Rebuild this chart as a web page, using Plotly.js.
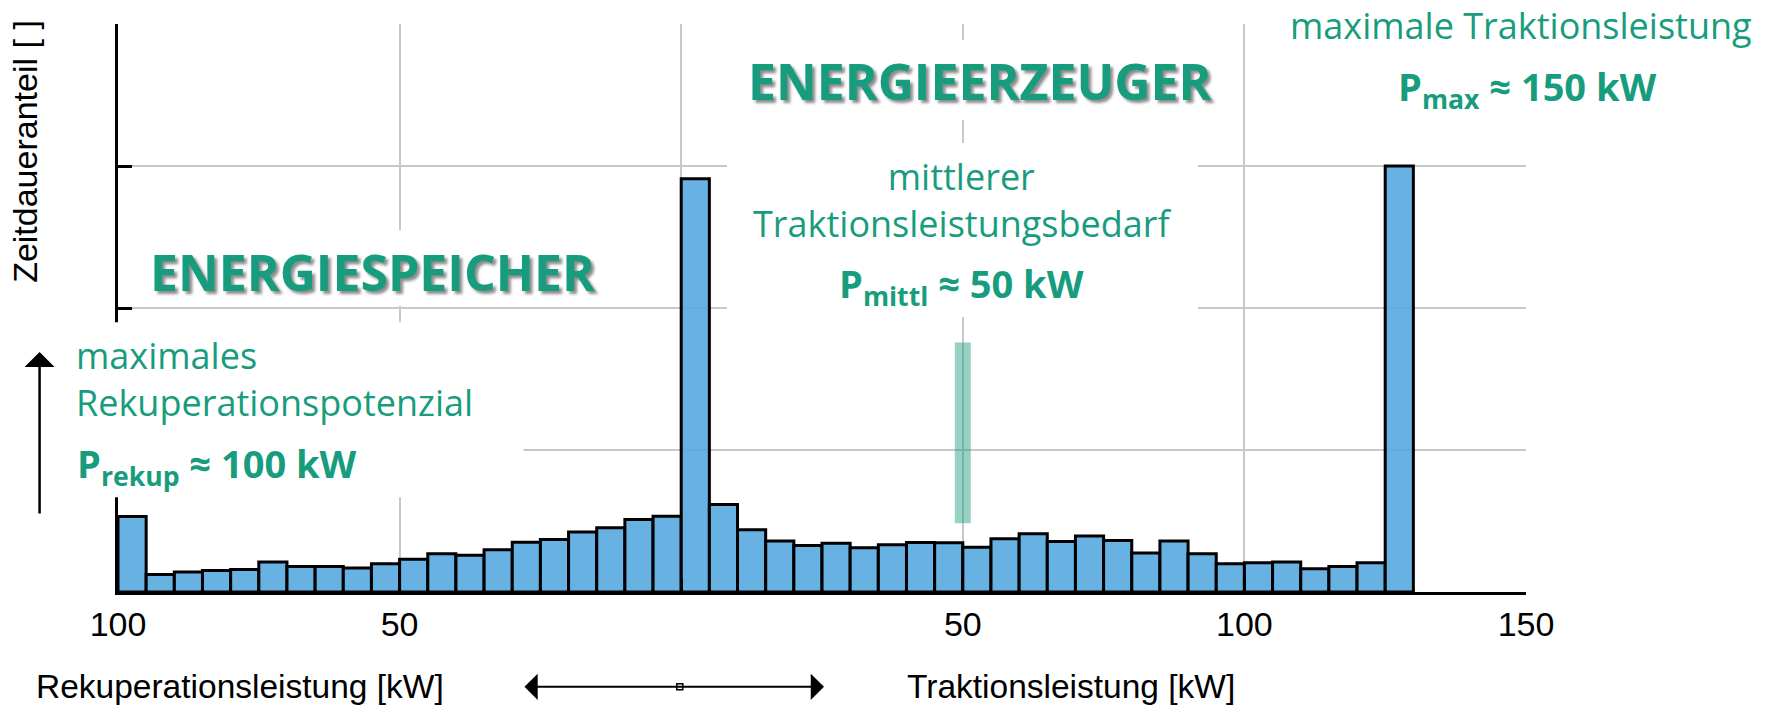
<!DOCTYPE html>
<html>
<head>
<meta charset="utf-8">
<script src="https://cdn.plot.ly/plotly-3.0.1.min.js"></script>
<style>html,body{margin:0;padding:0;background:#fff;}#chart{width:1774px;height:705px;}</style>
</head>
<body>
<div id="chart"></div>
<script>
// Bin start (kW): negative = recuperation, positive = traction; bin width 5 kW
const binStart = [
  -100, -95, -90, -85, -80, -75, -70, -65, -60, -55,
  -50, -45, -40, -35, -30, -25, -20, -15, -10, -5,
  0,
  5, 10, 15, 20, 25, 30, 35, 40, 45,
  50, 55, 60, 65, 70, 75, 80, 85, 90,
  95, 100, 105, 110, 115, 120,
  125
];
// Share of time (relative units, grid step = 1)
const timeShare = [
  0.532, 0.124, 0.141, 0.152, 0.159, 0.211, 0.180, 0.180, 0.169, 0.199,
  0.230, 0.269, 0.258, 0.298, 0.351, 0.370, 0.422, 0.452, 0.511, 0.534,
  2.91,
  0.616, 0.438, 0.359, 0.328, 0.344, 0.312, 0.333, 0.349, 0.347,
  0.316, 0.375, 0.410, 0.356, 0.394, 0.363, 0.274, 0.359, 0.269,
  0.199, 0.206, 0.211, 0.164, 0.180, 0.206,
  3.00
];
const binWidth = 5;
const tickValues = [-100, -50, 0, 50, 100, 150];
const tickLabels = ["100", "50", "", "50", "100", "150"];
const meanPower = [50, 50];
const meanBand = [0.485, 1.757];

const green = "#179C7D";
const arial = "Liberation Sans, Arial, sans-serif";
const sans = "Open Sans, Noto Sans, sans-serif";
const shadow = "3px 3px 3px rgba(0,0,0,0.45)";

const traces = [
  {
    type: "bar",
    x: binStart,
    y: timeShare,
    width: binWidth,
    offset: 0,
    marker: {color: "rgba(86,168,224,0.9)", line: {color: "#000", width: 3}},
    hoverinfo: "x+y"
  },
  {
    type: "scatter",
    mode: "lines",
    x: meanPower,
    y: meanBand,
    line: {color: "rgba(23,156,125,0.45)", width: 16},
    hoverinfo: "skip"
  }
];

function whiteBox(x0, x1, y0, y1) {
  return {type: "rect", xref: "paper", yref: "paper", x0: x0, x1: x1, y0: y0, y1: y1,
          fillcolor: "#fff", line: {width: 0}, layer: "above"};
}

const layout = {
  width: 1774,
  height: 705,
  margin: {l: 118, r: 248, t: 24, b: 113},
  paper_bgcolor: "#fff",
  plot_bgcolor: "#fff",
  showlegend: false,
  bargap: 0,
  xaxis: {
    range: [-100, 150],
    tickmode: "array",
    tickvals: tickValues,
    ticktext: tickLabels,
    ticks: "inside",
    ticklen: 13,
    tickwidth: 3,
    tickcolor: "#000",
    showline: true,
    linecolor: "#000",
    linewidth: 3,
    showgrid: true,
    gridcolor: "#c8c8c8",
    gridwidth: 2,
    zeroline: false,
    tickfont: {family: arial, size: 34, color: "#000"}
  },
  yaxis: {
    range: [0, 4],
    tickmode: "array",
    tickvals: [0, 1, 2, 3, 4],
    ticks: "inside",
    ticklen: 14,
    tickwidth: 3,
    tickcolor: "#000",
    showticklabels: false,
    showline: true,
    linecolor: "#000",
    linewidth: 3,
    showgrid: true,
    gridcolor: "#c8c8c8",
    gridwidth: 2,
    zeroline: false
  },
  shapes: [
    whiteBox(-0.040, 0.288, 0.167, 0.475),
    whiteBox(0.016, 0.355, 0.504, 0.637),
    whiteBox(0.438, 0.791, 0.831, 0.972),
    whiteBox(0.4325, 0.767, 0.484, 0.7905),
    whiteBox(0.817, 1.2, 0.831, 1.06),
    {type: "rect", xref: "paper", yref: "paper", xsizemode: "pixel", ysizemode: "pixel",
     xanchor: 0.399, yanchor: -0.167, x0: -3, x1: 3, y0: -3, y1: 3,
     fillcolor: "#fff", line: {color: "#000", width: 1.5}, layer: "above"}
  ],
  annotations: [
    {xref: "paper", yref: "paper", x: -0.066, y: 0.775, text: "Zeitdaueranteil [ ]", textangle: -90,
     showarrow: false, xanchor: "center", yanchor: "middle", font: {family: arial, size: 34, color: "#000"}},
    {xref: "paper", yref: "paper", x: -0.0557, y: 0.4225, ax: 0, ay: 163, text: "", showarrow: true,
     arrowhead: 1, arrowsize: 2, arrowwidth: 2.5, arrowcolor: "#000"},
    {xref: "paper", yref: "paper", x: 0.0866, y: -0.167, text: "Rekuperationsleistung [kW]",
     showarrow: false, xanchor: "center", yanchor: "middle", font: {family: arial, size: 33.5, color: "#000"}},
    {xref: "paper", yref: "paper", x: 0.677, y: -0.167, text: "Traktionsleistung [kW]",
     showarrow: false, xanchor: "center", yanchor: "middle", font: {family: arial, size: 33.5, color: "#000"}},
    {xref: "paper", yref: "paper", x: 0.5014, y: -0.167, ax: -301, ay: 0, text: "", showarrow: true,
     arrowside: "end+start", arrowhead: 1, startarrowhead: 1, arrowsize: 2.2, startarrowsize: 2.2,
     arrowwidth: 2, arrowcolor: "#000"},
    {xref: "paper", yref: "paper", x: 0.181, y: 0.563, text: "<b>ENERGIESPEICHER</b>",
     showarrow: false, xanchor: "center", yanchor: "middle",
     font: {family: sans, size: 50, color: green, shadow: shadow}},
    {xref: "paper", yref: "paper", x: 0.612, y: 0.900, text: "<b>ENERGIEERZEUGER</b>",
     showarrow: false, xanchor: "center", yanchor: "middle",
     font: {family: sans, size: 50, color: green, shadow: shadow}},
    {xref: "paper", yref: "paper", x: 0.5994, y: 0.6905, text: "mittlerer<br>Traktionsleistungsbedarf",
     showarrow: false, xanchor: "center", yanchor: "middle", align: "center", borderpad: 0,
     font: {family: sans, size: 36, color: green}},
    {xref: "paper", yref: "paper", x: 0.5994, y: 0.540, text: "<b>P<sub>mittl</sub> ≈ 50 kW</b>",
     showarrow: false, xanchor: "center", yanchor: "middle", font: {family: sans, size: 38, color: green}},
    {xref: "paper", yref: "paper", x: 0.9964, y: 0.998, text: "maximale Traktionsleistung",
     showarrow: false, xanchor: "center", yanchor: "middle", font: {family: sans, size: 36, color: green}},
    {xref: "paper", yref: "paper", x: 1.0014, y: 0.887, text: "<b>P<sub>max</sub> ≈ 150 kW</b>",
     showarrow: false, xanchor: "center", yanchor: "middle", font: {family: sans, size: 38, color: green}},
    {xref: "paper", yref: "paper", x: -0.0305, y: 0.375, text: "maximales<br>Rekuperationspotenzial",
     showarrow: false, xanchor: "left", yanchor: "middle", align: "left", borderpad: 0,
     font: {family: sans, size: 36, color: green}},
    {xref: "paper", yref: "paper", x: -0.0305, y: 0.223, text: "<b>P<sub>rekup</sub> ≈ 100 kW</b>",
     showarrow: false, xanchor: "left", yanchor: "middle", font: {family: sans, size: 38, color: green}}
  ]
};

Plotly.newPlot("chart", traces, layout, {displayModeBar: false, staticPlot: true});
</script>
</body>
</html>
